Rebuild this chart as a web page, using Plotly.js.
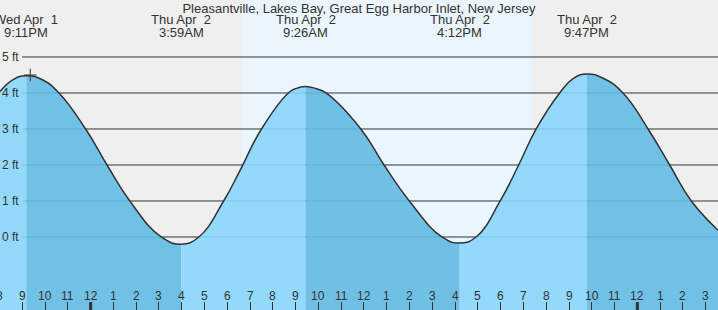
<!DOCTYPE html>
<html>
<head>
<meta charset="utf-8">
<script src="https://cdn.plot.ly/plotly-3.0.1.min.js"></script>
<style>
  html, body { margin: 0; padding: 0; background: #efefef; }
  #chart { width: 718px; height: 310px; }
</style>
</head>
<body>
<div id="chart"></div>
<script>
// ---- Data (time = hours since Wed Apr 1 00:00, height in ft) ----
const chartTitle = "Pleasantville, Lakes Bay, Great Egg Harbor Inlet, New Jersey";

const curveTimes = [20.02, 20.60, 21.18, 21.90, 22.61, 23.78, 24.72, 25.72, 27.10, 27.98,
  28.75, 29.84, 30.56, 31.50, 32.68, 33.00, 33.43, 33.90, 34.33, 35.86,
  36.88, 37.99, 39.42, 40.20, 40.92, 41.98, 42.79, 43.56, 44.59, 45.18,
  45.78, 46.50, 47.37, 48.47, 49.42, 50.37, 51.54];
const curveHeights = [4.04, 4.37, 4.48, 4.36, 4.00, 3.00, 2.00, 1.00, 0.00, -0.20,
  0.00, 1.00, 1.85, 3.00, 4.00, 4.12, 4.18, 4.12, 4.00, 3.00,
  2.00, 1.00, 0.00, -0.17, 0.00, 1.00, 2.00, 3.00, 4.00, 4.40,
  4.53, 4.41, 4.00, 3.00, 2.00, 1.00, 0.19];

const extremeTimes = [21.183, 27.983, 33.433, 40.200, 45.783, 52.77];
const extremeDates = ["Wed Apr\u00a0 1", "Thu Apr\u00a0 2", "Thu Apr\u00a0 2", "Thu Apr\u00a0 2", "Thu Apr\u00a0 2", "Fri Apr\u00a0 3"];
const extremeClock = ["9:11PM", "3:59AM", "9:26AM", "4:12PM", "9:47PM", "4:46AM"];

const markerTime = [21.35];
const markerHeight = [4.5];

const dayStart = 30.65;   // sunrise ~6:39AM Apr 2
const dayEnd = 43.37;     // sunset  ~7:22PM Apr 2

const hourLabels = ["8","9","10","11","12","1","2","3","4","5","6","7","8","9","10","11",
  "12","1","2","3","4","5","6","7","8","9","10","11","12","1","2","3"];
const firstHour = 20;
const midnightHours = [24, 48];

const yTicks = [0, 1, 2, 3, 4, 5];
const yTickUnit = " ft";

// ---- Styles ----
const FONT = "Liberation Sans, Arial, sans-serif";
const TXT = "#333333";
const xRange = [20.021, 51.541];
const yRange = [-2.028, 6.583];
const FLOOR = -3;
const SMOOTH = 1.3;
const riseColor = "rgba(136,214,252,0.9)";
const fallColor = "rgba(99,186,227,0.9)";

// annotations outside the x range are hidden by plotly when xref='x';
// place those on paper coordinates instead
function xPos(t) {
  if (t >= xRange[0] && t <= xRange[1]) return {x: t, xref: "x"};
  return {x: (t - xRange[0]) / (xRange[1] - xRange[0]), xref: "paper"};
}

// ---- Build fill segments between extremes ----
const breaks = [0];
for (let i = 1; i < curveHeights.length - 1; i++) {
  const a = curveHeights[i - 1], b = curveHeights[i], c = curveHeights[i + 1];
  if ((b > a && b > c) || (b < a && b < c)) breaks.push(i);
}
breaks.push(curveHeights.length - 1);

const traces = [];
for (let s = 0; s < breaks.length - 1; s++) {
  const i = breaks[s], j = breaks[s + 1];
  const xs = curveTimes.slice(i, j + 1);
  const ys = curveHeights.slice(i, j + 1);
  const rising = curveHeights[j] > curveHeights[i];
  traces.push({
    x: [xs[0], xs[xs.length - 1]], y: [FLOOR, FLOOR],
    mode: "lines", line: {width: 0, color: "rgba(0,0,0,0)"},
    hoverinfo: "skip", showlegend: false
  });
  traces.push({
    x: xs, y: ys, mode: "lines", fill: "tonexty",
    fillcolor: rising ? riseColor : fallColor,
    line: {width: 0, shape: "spline", smoothing: SMOOTH, color: "rgba(0,0,0,0)"},
    hoverinfo: "skip", showlegend: false
  });
}
traces.push({
  x: curveTimes, y: curveHeights, mode: "lines",
  line: {color: "#333333", width: 1.5, shape: "spline", smoothing: SMOOTH},
  hoverinfo: "skip", showlegend: false
});
traces.push({
  x: markerTime, y: markerHeight, mode: "markers",
  marker: {symbol: "cross-thin", size: 9, line: {color: "#333333", width: 1}},
  hoverinfo: "skip", showlegend: false
});

// ---- Shapes ----
const shapes = [];
shapes.push({type: "rect", layer: "below", xref: "x", yref: "paper",
  x0: dayStart, x1: dayEnd, y0: 0, y1: 1,
  fillcolor: "#ebf5fd", line: {width: 0}});
yTicks.forEach(v => shapes.push({type: "line", layer: "below", xref: "paper", yref: "y",
  x0: 22 / 718, x1: 1, y0: v, y1: v, line: {color: "#333333", width: 1}}));
midnightHours.forEach(h => shapes.push({type: "line", layer: "above", xref: "x", yref: "paper",
  x0: h, x1: h, y0: 0, y1: 8 / 310, line: {color: "#333333", width: 3}}));

// ---- Annotations ----
const annotations = [];
const tickVals = hourLabels.map((_, k) => firstHour + k);
hourLabels.forEach((lab, k) => annotations.push(Object.assign(xPos(tickVals[k]), {
  y: 1 - 296 / 310, yref: "paper",
  text: lab, showarrow: false, xanchor: "center", yanchor: "middle",
  font: {family: FONT, size: 12, color: TXT}
})));
yTicks.forEach(v => annotations.push({
  x: 0, xref: "paper", xanchor: "left", xshift: 0, y: v, yref: "y", yanchor: "middle",
  text: v + yTickUnit, showarrow: false, font: {family: FONT, size: 12, color: TXT}
}));
extremeTimes.forEach((t, k) => {
  annotations.push(Object.assign(xPos(t), {y: 1 - 20 / 310, yref: "paper", yanchor: "middle",
    xanchor: "center", text: extremeDates[k], showarrow: false,
    font: {family: FONT, size: 13, color: TXT}}));
  annotations.push(Object.assign(xPos(t), {y: 1 - 32 / 310, yref: "paper", yanchor: "middle",
    xanchor: "center", text: extremeClock[k], showarrow: false,
    font: {family: FONT, size: 13, color: TXT}}));
});

const layout = {
  width: 718, height: 310,
  margin: {l: 0, r: 0, t: 0, b: 0, pad: 0},
  paper_bgcolor: "#efefef", plot_bgcolor: "#efefef",
  title: {text: chartTitle, font: {family: FONT, size: 13, color: TXT},
    x: 0.5, xanchor: "center", xref: "paper", y: 1 - 8 / 310, yanchor: "middle", yref: "container"},
  xaxis: {range: xRange, showgrid: false, zeroline: false, showline: false,
    tickmode: "array", tickvals: tickVals, ticks: "inside", ticklen: 8, tickwidth: 1,
    tickcolor: "#333333", showticklabels: false, fixedrange: true},
  yaxis: {range: yRange, showgrid: false, zeroline: false, showline: false,
    showticklabels: false, ticks: "", fixedrange: true},
  shapes: shapes,
  annotations: annotations,
  showlegend: false
};

Plotly.newPlot("chart", traces, layout, {staticPlot: true, displayModeBar: false});
</script>
</body>
</html>
